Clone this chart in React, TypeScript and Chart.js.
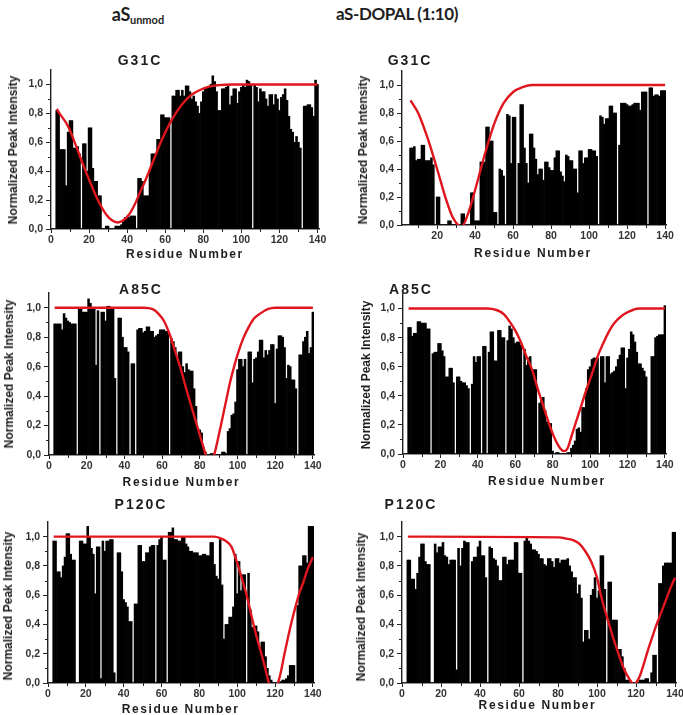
import React, { useEffect, useRef } from 'react';
import { Chart, registerables } from 'chart.js';

Chart.register(...registerables);

// ---------------- data ----------------
const residues: number[] = Array.from({ length: 140 }, (_, i) => i + 1);

const g31cUnmod: (number | null)[] = [
  null, null, 0.82, 0.80, 0.55, 0.55, 0.55, 0.30, 0.67, 0.75,
  0.75, 0.56, 0.56, 0.57, 0.52, null, 0.59, 0.59, 0.40, 0.70,
  0.70, 0.42, 0.33, 0.33, 0.23, 0.23, 0, 0, 0.02, 0.02,
  0, 0, 0, 0.02, 0.02, 0.02, 0.03, 0.05, 0.08, 0.08,
  0.08, 0.09, 0.09, 0.09, null, 0.35, 0.35, 0.33, 0.23, 0.23,
  0.23, 0.41, 0.52, 0.52, 0.52, 0.62, 0.62, 0.79, 0.79, 0.77,
  0.77, 0.77, null, 0.92, 0.92, 0.96, 0.96, 0.92, 0.96, 0.92,
  0.99, 0.99, 0.95, 0.90, 0.92, 0.88, 0.85, 0.80, 0.88, 0.95,
  0.98, 0.98, 0.98, 1.00, 1.06, 1.02, 0.95, 0.82, 0.82, 0.97,
  0.97, 0.98, 0.99, 0.86, 0.92, 0.97, 0.97, 0.87, 0.95, 0.98,
  1.00, 0.98, 1.03, 1.02, 1.00, null, 1.00, 0.98, 0.88, 0.97,
  0.95, 0.95, 0.90, 0.85, 0.93, 0.93, 0.86, 0.93, 0.90, 0.82,
  0.91, 0.93, 0.97, 0.89, 0.78, 0.69, 0.67, 0.60, 0.64, 0.60,
  0.56, null, 0.85, 0.85, 0.86, 0.86, 0.84, 0.78, 1.03, 1.00,
];

const g31cDopal: (number | null)[] = [
  null, null, null, null, null, 0.55, 0.55, 0.56, 0.46, 0.47,
  0.47, 0.57, 0.57, 0.46, 0.46, 0.46, 0.48, 0.43, null, 0.20,
  0.20, 0, 0, 0, 0, 0.03, 0.03, 0, 0, 0,
  0, 0, 0.08, 0.08, 0, 0, 0, 0.23, 0.23, 0.03,
  0.03, 0.03, 0.45, 0.45, 0.45, 0.70, 0.70, 0.60, 0.60, 0.09,
  0.09, 0, 0.40, 0.39, 0.35, 0, 0.79, 0.78, 0.44, 0.77,
  0.77, null, 0.44, 0.86, 0.86, 0.55, 0.44, 0.30, 0.65, 0.65,
  0.55, 0.47, 0.36, 0.40, 0.40, 0.32, 0.45, 0.45, 0.41, 0.39,
  0.39, 0.48, 0.53, 0.53, 0.38, 0.35, 0.31, 0.50, 0.49, 0.46,
  0.46, 0.40, 0.40, 0.23, 0.53, 0.53, 0.44, 0.48, 0.48, 0.54,
  0.54, 0.53, 0.53, 0.49, null, 0.78, 0.77, 0.72, 0.76, 0.76,
  0.85, 0.85, 0.80, 0.80, null, 0.57, 0.87, 0.87, 0.87, 0.86,
  0.85, 0.85, 0.86, 0.87, 0.87, 0.87, 0.82, 0.95, 0.95, 0.95,
  null, 0.98, 0.98, 0.92, 0.93, 0.93, 0.92, 0.96, 0.96, 0.96,
];

const a85cUnmod: (number | null)[] = [
  null, null, 0.89, 0.89, 0.89, 0.89, 0.85, 0.96, 0.93, 0.91,
  0.90, 0.89, 0.89, 0.89, null, 1.00, 1.00, 0.97, 0.97, 0.97,
  1.06, 1.03, 1.00, 1.00, 0.61, 0.98, null, 0.97, 0.97, 0.91,
  1.01, 1.01, 1.00, 1.00, 0.52, null, 0.93, 0.93, 0.80, 0.73,
  0.73, 0.70, null, 0.62, 0.62, null, 0.85, 0.86, 0.86, 0.83,
  0.84, 0.87, 0.87, 0.84, 0.84, 0.80, 0.81, 0.82, 0.85, 0.85,
  0.85, 0.84, 0.84, null, 0.79, 0.77, 0.73, 0.67, 0.70, 0.70,
  0.60, 0.56, 0.62, 0.58, 0.57, 0.57, 0.45, 0.33, 0.18, 0.17,
  0.15, 0.05, 0.02, 0, 0, 0.01, 0.01, 0, 0, 0,
  0, 0.02, 0.02, 0.01, 0.16, 0.18, 0.27, 0.28, 0.36, 0.58,
  0.65, 0.65, 0.60, 0.65, null, 0.70, 0.70, 0.49, 0.65, 0.66,
  0.70, 0.78, 0.78, 0.66, 0.71, 0.68, 0.71, 0.75, 0.75, 0.35,
  0.72, 0.81, 0.81, 0.80, 0.73, 0.52, 0.61, 0.60, 0.51, 0.51,
  0.45, null, 0.68, 0.68, 0.77, 0.80, 0.84, 0.69, 0.73, 0.97,
];

const a85cDopal: (number | null)[] = [
  null, null, 0.87, 0.87, 0.81, 0.83, 0.83, 0.91, 0.91, 0.90,
  0.90, 0.90, 0.86, 0.86, null, 0.69, 0.70, 0.70, 0.76, 0.76,
  0.71, 0.67, 0.53, 0.53, 0.59, 0.59, 0.49, null, 0.53, 0.53,
  0.50, 0.49, 0.49, 0.47, 0.45, null, 0.48, 0.67, 0.63, 0.67,
  0.67, null, 0.74, 0.74, null, 0.70, 0.84, 0.84, 0.64, 0.64,
  0.85, 0.85, 0.80, 0.80, null, 0.78, 0.88, 0.86, 0.80, 0.76,
  0.77, 0.77, 0.75, null, 0.72, 0.61, 0.66, 0.67, 0.58, 0.58,
  0.58, null, 0.35, 0.38, 0.39, 0.30, 0.22, 0.21, 0.21, 0.02,
  null, 0.01, 0.01, 0, 0, 0, 0, 0.01, 0.01, 0.04,
  0.06, 0.09, 0.17, 0.18, 0.15, 0.32, 0.32, 0.45, 0.58, 0.60,
  0.65, 0.66, 0.66, 0.66, null, 0.67, 0.67, 0.49, 0.67, 0.67,
  0.55, 0.56, 0.57, 0.60, 0.65, 0.68, 0.73, 0.73, 0.45, 0.66,
  0.72, 0.84, 0.82, 0.77, 0.70, 0.62, 0.62, 0.59, 0.57, 0.53,
  null, null, 0.67, 0.67, 0.80, 0.81, 0.82, 0.82, 0.82, 1.02,
];

const p120cUnmod: (number | null)[] = [
  null, null, 0.97, 0.97, 0.76, 0.76, 0.72, 0.80, 0.86, 1.02,
  1.02, 0.88, 0.84, 0.84, null, null, 0.97, 0.97, 0.95, 0.95,
  1.07, 1.00, 0.92, 0.88, 0.61, 0.93, 0.93, 0.03, 0.97, 0.90,
  0.97, 0.97, 0.98, 0.98, 0.07, null, 0.89, 0.89, 0.76, 0.57,
  0.55, 0.52, 0.42, 0.42, null, 0.54, 0.54, 0.94, 0.94, 0.83,
  0.83, 0.89, 0.89, 0.93, 0.94, 0.94, null, 0.94, 0.98, 1.00,
  0.84, 0.84, null, 1.03, 1.03, 1.06, 0.98, 0.98, 0.97, 0.97,
  1.00, 1.00, 0.95, 0.93, 0.90, 0.90, 0.89, 0.89, 0.89, 0.87,
  0.87, 0.88, 0.88, 0.87, 0.87, 0.96, 0.96, 0.81, 0.73, 0.71,
  0.98, 0.67, 0.30, 0.40, 0.40, 0.45, 0.45, 0.52, 0.88, 0.61,
  0.83, 0.63, 0.74, 0.74, null, 0.75, 0.50, 0.38, 0.38, 0.39,
  0.35, 0.24, 0.28, 0.28, 0.18, 0.10, 0.05, 0.02, 0, 0,
  0, 0, 0.01, 0.02, 0.02, 0.03, 0.05, 0.12, 0.12, 0.12,
  null, 0.53, 0.80, 0.80, 0.87, 0.87, 0.82, 1.07, 1.07, 1.07,
];

const p120cDopal: (number | null)[] = [
  null, null, 0.84, 0.84, 0.71, 0.71, 0.64, 0.75, 0.86, 0.95,
  0.95, 0.83, 0.81, 0.81, null, null, 0.95, 0.89, 0.93, 0.93,
  0.96, 0.87, 0.86, 0.81, 0.84, 0.84, 0.84, 0.09, 0.92, 0.80,
  0.92, 0.97, 0.96, 0.96, null, 0.83, 0.86, 0.86, 0.93, 0.97,
  0.87, 0.87, 0.72, null, 0.93, 0.92, 0.85, 0.84, 0.80, 0.70,
  0.70, 0.86, 0.86, 0.81, 0.84, 0.84, 0.84, 0.96, 0.96, 0.75,
  0.75, null, 0.97, 1.00, 0.97, 0.95, 0.91, 0.91, 0.90, 0.88,
  0.85, 0.85, 0.81, 0.80, 0.85, 0.85, 0.83, 0.79, 0.85, 0.85,
  0.82, 0.84, 0.84, 0.84, 0.85, 0.80, 0.76, 0.72, 0.72, 0.61,
  0.67, 0.58, 0.28, 0.36, 0.36, 0.30, 0.60, 0.64, 0.72, 0.58,
  0.63, 0.87, 0.87, 0.64, null, 0.69, 0.69, 0.43, 0.43, 0.43,
  0.23, 0.23, 0.18, 0.10, 0.02, 0.02, 0, 0, 0, 0,
  0, 0.02, 0.02, 0.02, 0.03, 0.03, 0, 0.07, 0.19, 0.19,
  null, 0.68, 0.68, 0.80, 0.82, 0.82, 0.82, 0.82, 1.03, 1.03,
];

// fitted profiles (red curves)
const g31cUnmodFitX = [3, 5, 9, 13, 17, 21, 25, 29, 32, 35, 38, 41, 44, 47, 50, 54, 58, 62, 66, 70, 74, 78, 83, 88, 95, 140];
const g31cUnmodFitY = [0.83, 0.79, 0.71, 0.58, 0.44, 0.31, 0.19, 0.10, 0.06, 0.045, 0.06, 0.10, 0.17, 0.26, 0.35, 0.48, 0.61, 0.72, 0.81, 0.88, 0.93, 0.96, 0.985, 0.995, 1.0, 1.0];

const g31cDopalFitX = [6, 10, 15, 20, 25, 28, 31, 33, 36, 40, 45, 50, 55, 60, 65, 70, 75, 140];
const g31cDopalFitY = [0.89, 0.80, 0.62, 0.40, 0.17, 0.06, 0.0, -0.01, 0.07, 0.25, 0.50, 0.72, 0.87, 0.95, 0.985, 1.0, 1.0, 1.0];

const a85cUnmodFitX = [3, 50, 55, 58, 61, 64, 67, 70, 73, 76, 79, 82, 84, 86, 88, 90, 92, 94, 96, 98, 100, 103, 106, 109, 112, 116, 120, 140];
const a85cUnmodFitY = [1, 1, 0.99, 0.96, 0.91, 0.82, 0.70, 0.58, 0.44, 0.31, 0.18, 0.05, -0.03, -0.05, 0.02, 0.13, 0.25, 0.37, 0.49, 0.59, 0.68, 0.79, 0.87, 0.93, 0.96, 0.99, 1, 1];

const a85cDopalFitX = [3, 45, 50, 54, 57, 60, 63, 66, 69, 72, 75, 78, 81, 84, 86, 88, 90, 92, 95, 98, 101, 104, 107, 110, 113, 117, 121, 126, 140];
const a85cDopalFitY = [1, 1, 0.99, 0.96, 0.91, 0.85, 0.77, 0.67, 0.58, 0.45, 0.33, 0.21, 0.11, 0.04, 0.02, 0.04, 0.12, 0.20, 0.32, 0.44, 0.55, 0.67, 0.76, 0.84, 0.90, 0.95, 0.98, 1, 1];

const p120cUnmodFitX = [3, 88, 91, 94, 97, 99, 101, 103, 105, 107, 109, 111, 113, 115, 117, 119, 121, 123, 125, 127, 129, 131, 133, 135, 137, 139, 140];
const p120cUnmodFitY = [1, 1, 0.99, 0.97, 0.93, 0.86, 0.78, 0.69, 0.60, 0.49, 0.38, 0.28, 0.19, 0.09, -0.01, -0.06, -0.02, 0.07, 0.20, 0.32, 0.43, 0.53, 0.62, 0.69, 0.77, 0.83, 0.86];

const p120cDopalFitX = [3, 80, 85, 88, 91, 94, 97, 100, 102, 104, 106, 108, 110, 112, 114, 116, 118, 119, 120, 122, 124, 126, 128, 130, 132, 134, 136, 138, 140];
const p120cDopalFitY = [1, 0.995, 0.985, 0.975, 0.95, 0.90, 0.83, 0.72, 0.60, 0.50, 0.41, 0.32, 0.24, 0.16, 0.09, 0.04, 0.0, -0.01, 0.0, 0.05, 0.13, 0.22, 0.30, 0.38, 0.45, 0.52, 0.59, 0.66, 0.72];

const yTickValues = [0, 0.2, 0.4, 0.6, 0.8, 1.0];
const yMinorValues = [0.1, 0.3, 0.5, 0.7, 0.9];
const xTickValues = [0, 20, 40, 60, 80, 100, 120, 140];
const xTickValuesFrom20 = [20, 40, 60, 80, 100, 120, 140];
const xMinorValues = [10, 30, 50, 70, 90, 110, 130];

const columnHeaders = ['aS', 'unmod', 'aS-DOPAL (1:10)'];
const xAxisTitle = 'Residue Number';
const yAxisTitle = 'Normalized Peak Intensity';

// ---------------- styling / layout ----------------
const RED = '#e0161e';
const AXIS = '#222';
const SANS = "'Liberation Sans', Arial, Helvetica, sans-serif";
const Y_AXIS_W = 44;
const X_AXIS_H = 22;
const PAD_T = 12;
const PAD_R = 14;

type Rect = { l: number; t: number; r: number; b: number };
type PanelCfg = {
  title: string;
  bars: (number | null)[];
  fitX: number[];
  fitY: number[];
  xMin: number;
  xMax: number;
  xTicks: number[];
  plot: Rect;
  titleAt: [number, number];
  xTitleAt: [number, number];
  yTitleAt: [number, number];
};

const panels: PanelCfg[] = [
  { title: 'G31C', bars: g31cUnmod, fitX: g31cUnmodFitX, fitY: g31cUnmodFitY, xMin: 0, xMax: 140.8, xTicks: xTickValues,
    plot: { l: 51, t: 70, r: 319, b: 229 }, titleAt: [140, 60], xTitleAt: [185, 254], yTitleAt: [13, 150] },
  { title: 'G31C', bars: g31cDopal, fitX: g31cDopalFitX, fitY: g31cDopalFitY, xMin: 1.5, xMax: 140.5, xTicks: xTickValuesFrom20,
    plot: { l: 402, t: 71, r: 666, b: 225 }, titleAt: [410, 60], xTitleAt: [533, 252.5], yTitleAt: [363, 150] },
  { title: 'A85C', bars: a85cUnmod, fitX: a85cUnmodFitX, fitY: a85cUnmodFitY, xMin: 0, xMax: 140.6, xTicks: xTickValues,
    plot: { l: 49, t: 293, r: 314, b: 455 }, titleAt: [141, 289], xTitleAt: [181.5, 481.5], yTitleAt: [9, 374] },
  { title: 'A85C', bars: a85cDopal, fitX: a85cDopalFitX, fitY: a85cDopalFitY, xMin: 0, xMax: 140.6, xTicks: xTickValues,
    plot: { l: 403, t: 294, r: 666, b: 454 }, titleAt: [411, 289], xTitleAt: [547, 481], yTitleAt: [366, 375] },
  { title: 'P120C', bars: p120cUnmod, fitX: p120cUnmodFitX, fitY: p120cUnmodFitY, xMin: 0, xMax: 140.6, xTicks: xTickValues,
    plot: { l: 48, t: 522, r: 314, b: 683 }, titleAt: [141, 504], xTitleAt: [180.6, 709], yTitleAt: [8, 606] },
  { title: 'P120C', bars: p120cDopal, fitX: p120cDopalFitX, fitY: p120cDopalFitY, xMin: 0, xMax: 140.5, xTicks: xTickValues,
    plot: { l: 402, t: 522, r: 676, b: 683 }, titleAt: [411, 504], xTitleAt: [537.5, 705], yTitleAt: [361, 607] },
];

const minorTicksPlugin = {
  id: 'minorTicks',
  afterDraw(chart: any, _args: any, opts: any) {
    const { ctx, chartArea, scales } = chart;
    const xs = scales.x;
    const ys = scales.y;
    ctx.save();
    ctx.strokeStyle = AXIS;
    ctx.lineWidth = 1;
    ctx.beginPath();
    (opts.x || []).forEach((v: number) => {
      if (v < xs.min || v > xs.max) return;
      const px = Math.round(xs.getPixelForValue(v)) + 0.5;
      ctx.moveTo(px, chartArea.bottom);
      ctx.lineTo(px, chartArea.bottom + 3);
    });
    (opts.y || []).forEach((v: number) => {
      const py = Math.round(ys.getPixelForValue(v)) + 0.5;
      ctx.moveTo(chartArea.left - 3, py);
      ctx.lineTo(chartArea.left, py);
    });
    ctx.stroke();
    ctx.restore();
  },
};

function Panel({ cfg }: { cfg: PanelCfg }) {
  const ref = useRef<HTMLCanvasElement>(null);
  const left = cfg.plot.l - Y_AXIS_W;
  const top = cfg.plot.t - PAD_T;
  const width = cfg.plot.r - left + PAD_R;
  const height = cfg.plot.b - top + X_AXIS_H;

  useEffect(() => {
    if (!ref.current) return;
    const tickFont = { family: SANS, size: 10.5, weight: 'bold' as const };
    const chart = new Chart(ref.current, {
      type: 'bar',
      data: {
        datasets: [
          {
            type: 'line' as const,
            data: cfg.fitX.map((x, i) => ({ x, y: cfg.fitY[i] })),
            borderColor: RED,
            borderWidth: 2.4,
            pointRadius: 0,
            cubicInterpolationMode: 'monotone' as const,
            fill: false,
            order: 0,
            clip: 0,
          } as any,
          {
            type: 'bar' as const,
            data: residues.map((r, i) => ({ x: r, y: cfg.bars[i] })),
            backgroundColor: '#000',
            borderWidth: 0,
            barPercentage: 1,
            categoryPercentage: 1,
            order: 1,
          } as any,
        ],
      },
      options: {
        responsive: false,
        animation: false,
        events: [],
        layout: { padding: { top: PAD_T, right: PAD_R, left: 0, bottom: 0 } },
        plugins: {
          legend: { display: false },
          tooltip: { enabled: false },
          minorTicks: { x: xMinorValues, y: yMinorValues },
        } as any,
        scales: {
          x: {
            type: 'linear',
            min: cfg.xMin,
            max: cfg.xMax,
            offset: false,
            grid: { display: true, offset: false, drawOnChartArea: false, drawTicks: true, tickLength: 4, color: AXIS, tickColor: AXIS, tickWidth: 1 },
            border: { display: true, color: AXIS, width: 1.4 },
            ticks: { font: tickFont, color: '#333', padding: 1, maxRotation: 0, autoSkip: false, callback: (v: any) => String(v) },
            afterBuildTicks: (s: any) => { s.ticks = cfg.xTicks.map((value) => ({ value })); },
            afterFit: (s: any) => { s.height = X_AXIS_H; },
          },
          y: {
            type: 'linear',
            min: 0,
            max: 1.1,
            grid: { display: true, drawOnChartArea: false, drawTicks: true, tickLength: 5, color: AXIS, tickColor: AXIS, tickWidth: 1 },
            border: { display: true, color: AXIS, width: 1.4 },
            ticks: { font: tickFont, color: '#333', padding: 3, callback: (v: any) => Number(v).toFixed(1).replace('.', ',') },
            afterBuildTicks: (s: any) => { s.ticks = yTickValues.map((value) => ({ value })); },
            afterFit: (s: any) => { s.width = Y_AXIS_W; },
          },
        } as any,
      },
      plugins: [minorTicksPlugin],
    } as any);
    return () => chart.destroy();
  }, [cfg]);

  return (
    <canvas
      ref={ref}
      width={width}
      height={height}
      style={{ position: 'absolute', left, top, width, height, display: 'block' }}
    />
  );
}

function Label({ at, children, style, rotate }: { at: [number, number]; children: React.ReactNode; style?: React.CSSProperties; rotate?: boolean }) {
  return (
    <div
      style={{
        position: 'absolute',
        left: at[0],
        top: at[1],
        transform: `translate(-50%, -50%)${rotate ? ' rotate(-90deg)' : ''}`,
        whiteSpace: 'nowrap',
        lineHeight: 1,
        color: '#1e1e1e',
        ...style,
      }}
    >
      {children}
    </div>
  );
}

export default function App() {
  const headerStyle: React.CSSProperties = { fontFamily: 'Lato, sans-serif', fontWeight: 700, fontSize: 17, letterSpacing: '-0.4px' };
  const titleStyle: React.CSSProperties = { fontFamily: SANS, fontWeight: 700, fontSize: 14, letterSpacing: '2px' };
  const xTitleStyle: React.CSSProperties = { fontFamily: SANS, fontWeight: 700, fontSize: 12, letterSpacing: '1.6px' };
  const yTitleStyle: React.CSSProperties = { fontFamily: SANS, fontWeight: 700, fontSize: 12 };
  return (
    <div style={{ position: 'absolute', left: 0, top: 0, width: 683, height: 715, background: '#fff', overflow: 'hidden' }}>
      <Label at={[138, 15]} style={{ ...headerStyle, fontSize: 18 }}>
        {columnHeaders[0]}
        <sub style={{ fontSize: 11, verticalAlign: '-0.3em', letterSpacing: 0 }}>{columnHeaders[1]}</sub>
      </Label>
      <Label at={[397, 13]} style={headerStyle}>{columnHeaders[2]}</Label>
      {panels.map((p, i) => (
        <React.Fragment key={i}>
          <Panel cfg={p} />
          <Label at={p.titleAt} style={titleStyle}>{p.title}</Label>
          <Label at={p.xTitleAt} style={xTitleStyle}>{xAxisTitle}</Label>
          <Label at={p.yTitleAt} style={yTitleStyle} rotate>{yAxisTitle}</Label>
        </React.Fragment>
      ))}
    </div>
  );
}
